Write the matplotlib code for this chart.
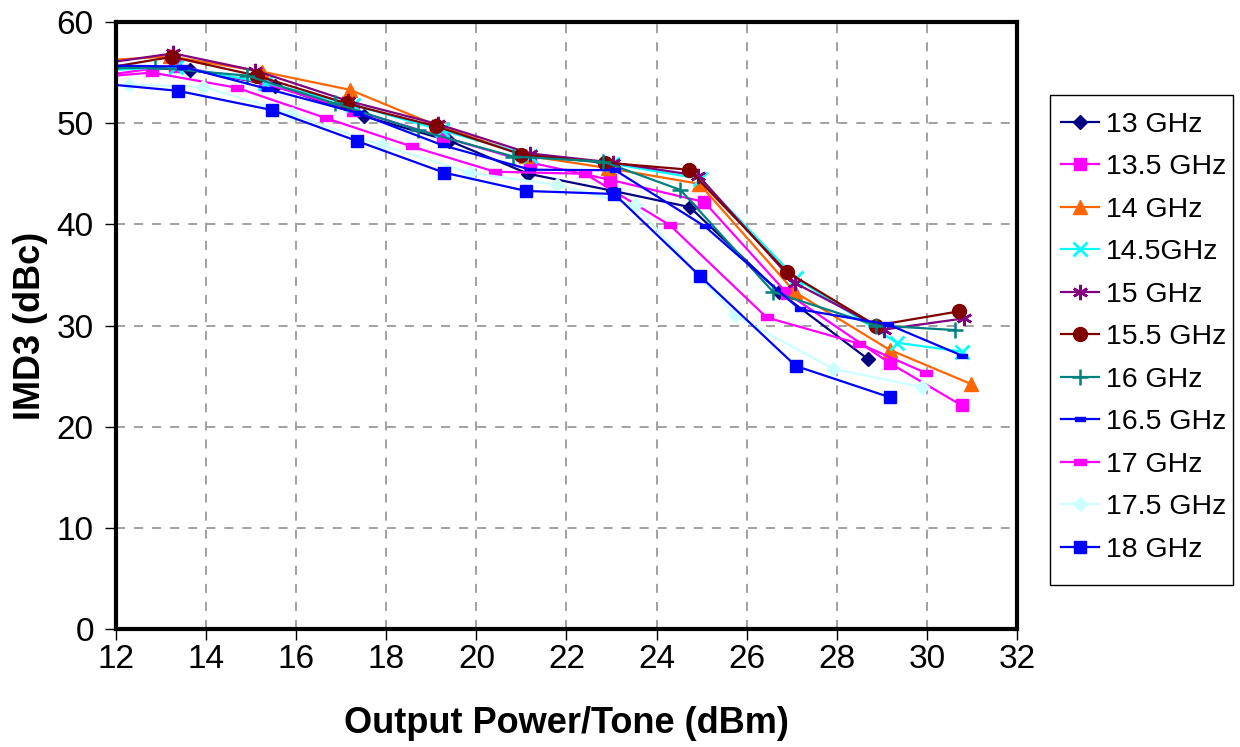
import matplotlib
matplotlib.use("Agg")
import matplotlib.pyplot as plt
from matplotlib.patches import Rectangle

plt.rcParams['font.family'] = ['Liberation Sans', 'DejaVu Sans']

labels = ["13 GHz", "13.5 GHz", "14 GHz", "14.5GHz", "15 GHz", "15.5 GHz",
          "16 GHz", "16.5 GHz", "17 GHz", "17.5 GHz", "18 GHz"]

x_13 = [11.7, 13.64, 15.53, 17.5, 19.4, 21.15, 23.04, 24.74, 26.72, 28.7]
y_13 = [55.6, 55.3, 53.7, 50.7, 48.25, 45.0, 43.3, 41.7, 33.3, 26.65]

x_135 = [11.7, 13.31, 15.31, 17.25, 19.25, 21.2, 22.97, 25.06, 26.89, 29.17, 30.77]
y_135 = [54.7, 55.7, 53.9, 51.3, 48.65, 46.1, 44.4, 42.2, 33.2, 26.3, 22.1]

x_14 = [11.7, 13.2, 15.23, 17.19, 19.1, 21.1, 22.93, 24.95, 27.07, 29.17, 30.99]
y_14 = [56.2, 56.6, 55.1, 53.3, 49.8, 46.8, 45.55, 44.0, 33.3, 27.6, 24.2]

x_145 = [11.7, 13.33, 15.31, 17.27, 19.23, 21.2, 23.0, 24.96, 27.1, 29.33, 30.79]
y_145 = [55.2, 55.6, 54.0, 51.8, 49.3, 46.8, 46.0, 44.5, 34.65, 28.3, 27.4]

x_15 = [11.7, 13.27, 15.09, 17.15, 19.15, 21.2, 23.04, 24.93, 27.07, 29.05, 30.82]
y_15 = [55.9, 56.9, 55.2, 52.2, 49.9, 47.0, 46.1, 44.8, 34.2, 29.6, 30.7]

x_155 = [11.7, 13.24, 15.12, 17.12, 19.1, 21.0, 22.85, 24.72, 26.89, 28.87, 30.71]
y_155 = [55.4, 56.55, 54.7, 51.95, 49.7, 46.9, 46.1, 45.4, 35.3, 30.0, 31.4]

x_16 = [11.7, 12.87, 14.9, 16.86, 18.71, 20.82, 22.81, 24.53, 26.59, 28.88, 30.62]
y_16 = [55.4, 55.5, 54.7, 51.95, 49.3, 46.7, 46.2, 43.4, 33.3, 30.0, 29.55]

x_165 = [11.7, 13.46, 15.35, 17.37, 19.26, 21.2, 23.08, 25.07, 27.18, 29.14, 30.79]
y_165 = [55.7, 55.6, 53.4, 51.0, 47.8, 45.4, 45.35, 39.8, 31.6, 30.1, 27.0]

x_17 = [11.7, 12.8, 14.68, 16.66, 18.56, 20.41, 22.41, 24.3, 26.44, 28.5, 29.98]
y_17 = [54.6, 55.0, 53.5, 50.5, 47.7, 45.2, 45.0, 39.9, 30.8, 28.2, 25.3]

x_175 = [12.29, 13.94, 15.9, 17.9, 19.86, 21.78, 23.52, 25.74, 27.92, 29.9]
y_175 = [53.8, 53.6, 50.9, 47.8, 45.1, 43.9, 41.9, 31.0, 25.7, 23.9]

x_18 = [11.7, 13.37, 15.46, 17.34, 19.29, 21.1, 23.06, 24.96, 27.09, 29.18]
y_18 = [53.9, 53.2, 51.3, 48.25, 45.1, 43.3, 43.0, 34.9, 26.0, 22.9]

xs = [x_13, x_135, x_14, x_145, x_15, x_155, x_16, x_165, x_17, x_175, x_18]
ys = [y_13, y_135, y_14, y_145, y_15, y_155, y_16, y_165, y_17, y_175, y_18]

colors = ["#000080", "#FF00FF", "#FF6600", "#00FFFF", "#800080", "#800000",
          "#008080", "#0000FF", "#FF00FF", "#CCFFFF", "#0000FF"]
rect = [(-1, -0.45), (1, -0.45), (1, 0.45), (-1, 0.45), (-1, -0.45)]
styles = [
    dict(marker="D", ms=7),
    dict(marker="s", ms=9),
    dict(marker="^", ms=10),
    dict(marker="x", ms=10, mew=2),
    dict(marker=(6, 2, 0), ms=11, mew=1.8),
    dict(marker="o", ms=10),
    dict(marker="+", ms=11, mew=1.8),
    dict(marker=rect, ms=7),
    dict(marker=rect, ms=9),
    dict(marker="D", ms=7),
    dict(marker="s", ms=9),
]

W, H = 1240, 747
fig = plt.figure(figsize=(12.4, 7.47), dpi=100)
ax = fig.add_axes([116/W, 1-629/H, (1017-116)/W, (629-22)/H])

for x, y, c, lab, st in zip(xs, ys, colors, labels, styles):
    ax.plot(x, y, color=c, lw=1.6, label=lab, mfc=c, mec=c, clip_on=True, **st)

ax.set_xlim(12, 32)
ax.set_ylim(0, 60)
ax.set_xticks(range(12, 33, 2))
ax.set_yticks(range(0, 61, 10))
ax.grid(True, color="#9a9a9a", linestyle=(0, (5, 5)), linewidth=1.3)
ax.set_axisbelow(True)
for s in ax.spines.values():
    s.set_linewidth(3)
    s.set_color("black")
ax.tick_params(axis="both", direction="out", length=8, width=1, labelsize=24)
ax.tick_params(axis="x", pad=3)
ax.tick_params(axis="y", pad=8)
ax.set_xlabel("Output Power/Tone (dBm)", fontsize=26, fontweight="bold", labelpad=22)
ax.set_ylabel("IMD3 (dBc)", fontsize=26, fontweight="bold", labelpad=6)

# legend frame
fig.patches.append(Rectangle((1050/W, 1-585/H), (1233-1050)/W, (585-95)/H,
                             transform=fig.transFigure, facecolor="white",
                             edgecolor="black", linewidth=1, zorder=1))
leg = fig.legend(loc="upper left", bbox_to_anchor=(1050/W, 1-101/H), fontsize=20.5,
                 frameon=False, handlelength=1.35,
                 labelspacing=0.58, borderpad=0.38, handletextpad=0.25, borderaxespad=0)
leg.set_zorder(2)

fig.savefig("out.png", dpi=100)
